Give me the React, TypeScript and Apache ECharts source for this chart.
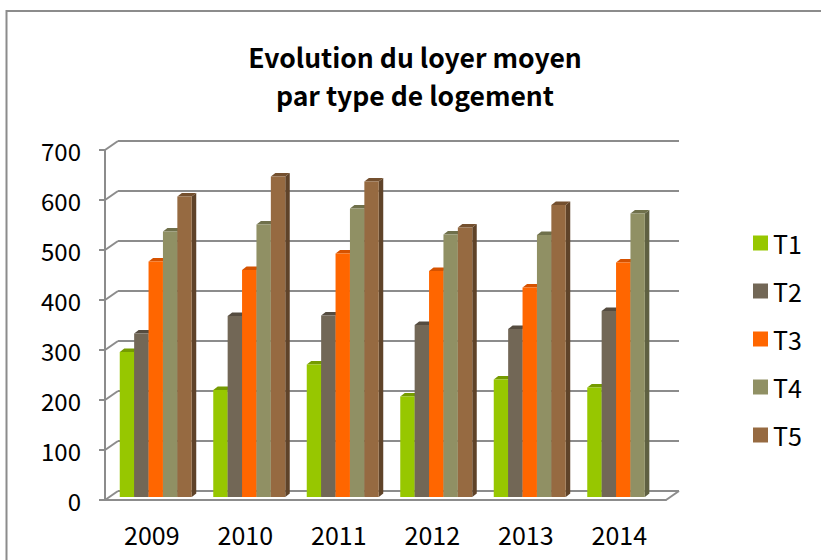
import React, { useEffect, useRef } from "react";
import * as echarts from "echarts";

const years = ["2009", "2010", "2011", "2012", "2013", "2014"];
const seriesNames = ["T1", "T2", "T3", "T4", "T5"];
const t1 = [290, 214, 265, 201, 235, 219];
const t2 = [327, 362, 363, 344, 336, 372];
const t3 = [471, 454, 487, 452, 419, 469];
const t4 = [531, 545, 577, 525, 524, 567];
const t5: (number | null)[] = [601, 641, 631, 539, 584, null];
const yTicks = [0, 100, 200, 300, 400, 500, 600, 700];

const frontColors = ["#97c700", "#726756", "#ff6600", "#909064", "#966a41"];
const topColors = ["#759b00", "#554c40", "#d65200", "#6f704b", "#74502f"];
const sideColors = ["#6a8c00", "#4b4338", "#c04a00", "#5f6042", "#5f4329"];

const FONT = "'Noto Sans CJK SC', 'Noto Sans', sans-serif";
const GRID_COLOR = "#8c8c8c";
const DX = 13;
const DY = 9;
const BDX = 4.5;
const BDY = 3.5;

export default function App() {
  const ref = useRef<HTMLDivElement>(null);
  useEffect(() => {
    if (!ref.current) return;
    const chart = echarts.init(ref.current, null, { renderer: "svg" });
    const allSeries = [t1, t2, t3, t4, t5];

    const barSeries = allSeries.map((vals, i) => ({
      type: "custom",
      name: seriesNames[i],
      xAxisIndex: 2,
      yAxisIndex: 2,
      z: 3 + i,
      itemStyle: { color: frontColors[i] },
      encode: { x: 0, y: 1 },
      data: vals.map((v, k) => [k, v]),
      renderItem: (params: any, api: any) => {
        const v = api.value(1);
        if (v === null || v === undefined || isNaN(v)) return null;
        const k = api.value(0);
        const [cx, y] = api.coord([k, v]);
        const y0 = api.coord([k, 0])[1];
        const band = api.size([1, 0])[0];
        const bw = band * 0.154;
        const x0 = cx - (bw * 5) / 2 + i * bw;
        const x1 = x0 + bw;
        return {
          type: "group",
          children: [
            {
              type: "polygon",
              shape: { points: [[x1, y], [x1 + BDX, y - BDY], [x1 + BDX, y0 - BDY], [x1, y0]] },
              style: { fill: sideColors[i] },
            },
            {
              type: "polygon",
              shape: { points: [[x0, y], [x0 + BDX, y - BDY], [x1 + BDX, y - BDY], [x1, y]] },
              style: { fill: topColors[i] },
            },
            {
              type: "rect",
              shape: { x: x0, y: y, width: bw, height: y0 - y },
              style: { fill: frontColors[i] },
            },
          ],
        };
      },
    }));

    const option: any = {
      animation: false,
      backgroundColor: "#ffffff",
      color: frontColors,
      title: {
        text: "Evolution du loyer moyen\npar type de logement",
        left: 415,
        top: 37,
        textAlign: "center",
        padding: 0,
        textStyle: {
          fontFamily: FONT,
          fontSize: 26.5,
          fontWeight: "bold",
          lineHeight: 38,
          color: "#000000",
        },
      },
      legend: {
        orient: "vertical",
        left: 753,
        top: 229,
        padding: 0,
        itemWidth: 15,
        itemHeight: 15,
        itemGap: 20,
        icon: "rect",
        data: seriesNames,
        textStyle: { fontFamily: FONT, fontSize: 25, lineHeight: 28, color: "#000000" },
      },
      graphic: [
        {
          type: "rect",
          shape: { x: 6.5, y: 11, width: 900, height: 700 },
          style: { fill: "none", stroke: GRID_COLOR, lineWidth: 2 },
          silent: true,
          z: -10,
        },
      ],
      grid: [
        { left: 118, top: 141, width: 561, height: 350 },
        { left: 105, top: 150, width: 561, height: 350 },
        { left: 109, top: 147, width: 561, height: 350 },
      ],
      xAxis: [
        { type: "category", gridIndex: 0, data: years, show: false },
        {
          type: "category",
          gridIndex: 1,
          data: years,
          axisLine: { show: true, lineStyle: { color: GRID_COLOR, width: 2 } },
          axisTick: { show: false },
          axisLabel: {
            margin: 21,
            fontFamily: FONT,
            fontSize: 25,
            lineHeight: 25,
            color: "#000000",
          },
        },
        { type: "category", gridIndex: 2, data: years, show: false },
      ],
      yAxis: [
        {
          type: "value",
          gridIndex: 0,
          min: 0,
          max: 700,
          interval: 100,
          axisLine: { show: false },
          axisTick: { show: false },
          axisLabel: { show: false },
          splitLine: { show: true, lineStyle: { color: GRID_COLOR, width: 2 } },
        },
        {
          type: "value",
          gridIndex: 1,
          min: 0,
          max: 700,
          interval: 100,
          axisLine: { show: true, lineStyle: { color: GRID_COLOR, width: 2 } },
          axisTick: { show: true, length: 6, lineStyle: { color: GRID_COLOR, width: 2 } },
          axisLabel: {
            margin: 24,
            fontFamily: FONT,
            fontSize: 24,
            color: "#000000",
          },
          splitLine: { show: false },
        },
        {
          type: "value",
          gridIndex: 2,
          min: 0,
          max: 700,
          interval: 100,
          show: false,
          splitLine: { show: false },
        },
      ],
      series: [
        {
          type: "custom",
          name: "diagonals",
          xAxisIndex: 1,
          yAxisIndex: 1,
          z: 1,
          silent: true,
          encode: { x: 0, y: 1 },
          data: yTicks.map((v) => [0, v]),
          renderItem: (params: any, api: any) => {
            const v = api.value(1);
            const y = api.coord([0, v])[1];
            const x = params.coordSys.x;
            const children: any[] = [
              {
                type: "line",
                shape: { x1: x, y1: y, x2: x + DX, y2: y - DY },
                style: { stroke: GRID_COLOR, lineWidth: 2 },
              },
            ];
            if (v === 0) {
              const xr = x + params.coordSys.width;
              children.push({
                type: "line",
                shape: { x1: xr, y1: y, x2: xr + DX, y2: y - DY },
                style: { stroke: GRID_COLOR, lineWidth: 2 },
              });
            }
            return { type: "group", children };
          },
        },
        ...barSeries,
      ],
    };
    chart.setOption(option);
    return () => chart.dispose();
  }, []);
  return (
    <div
      ref={ref}
      style={{ position: "absolute", left: 0, top: 0, width: 821, height: 560, background: "#fff" }}
    />
  );
}
